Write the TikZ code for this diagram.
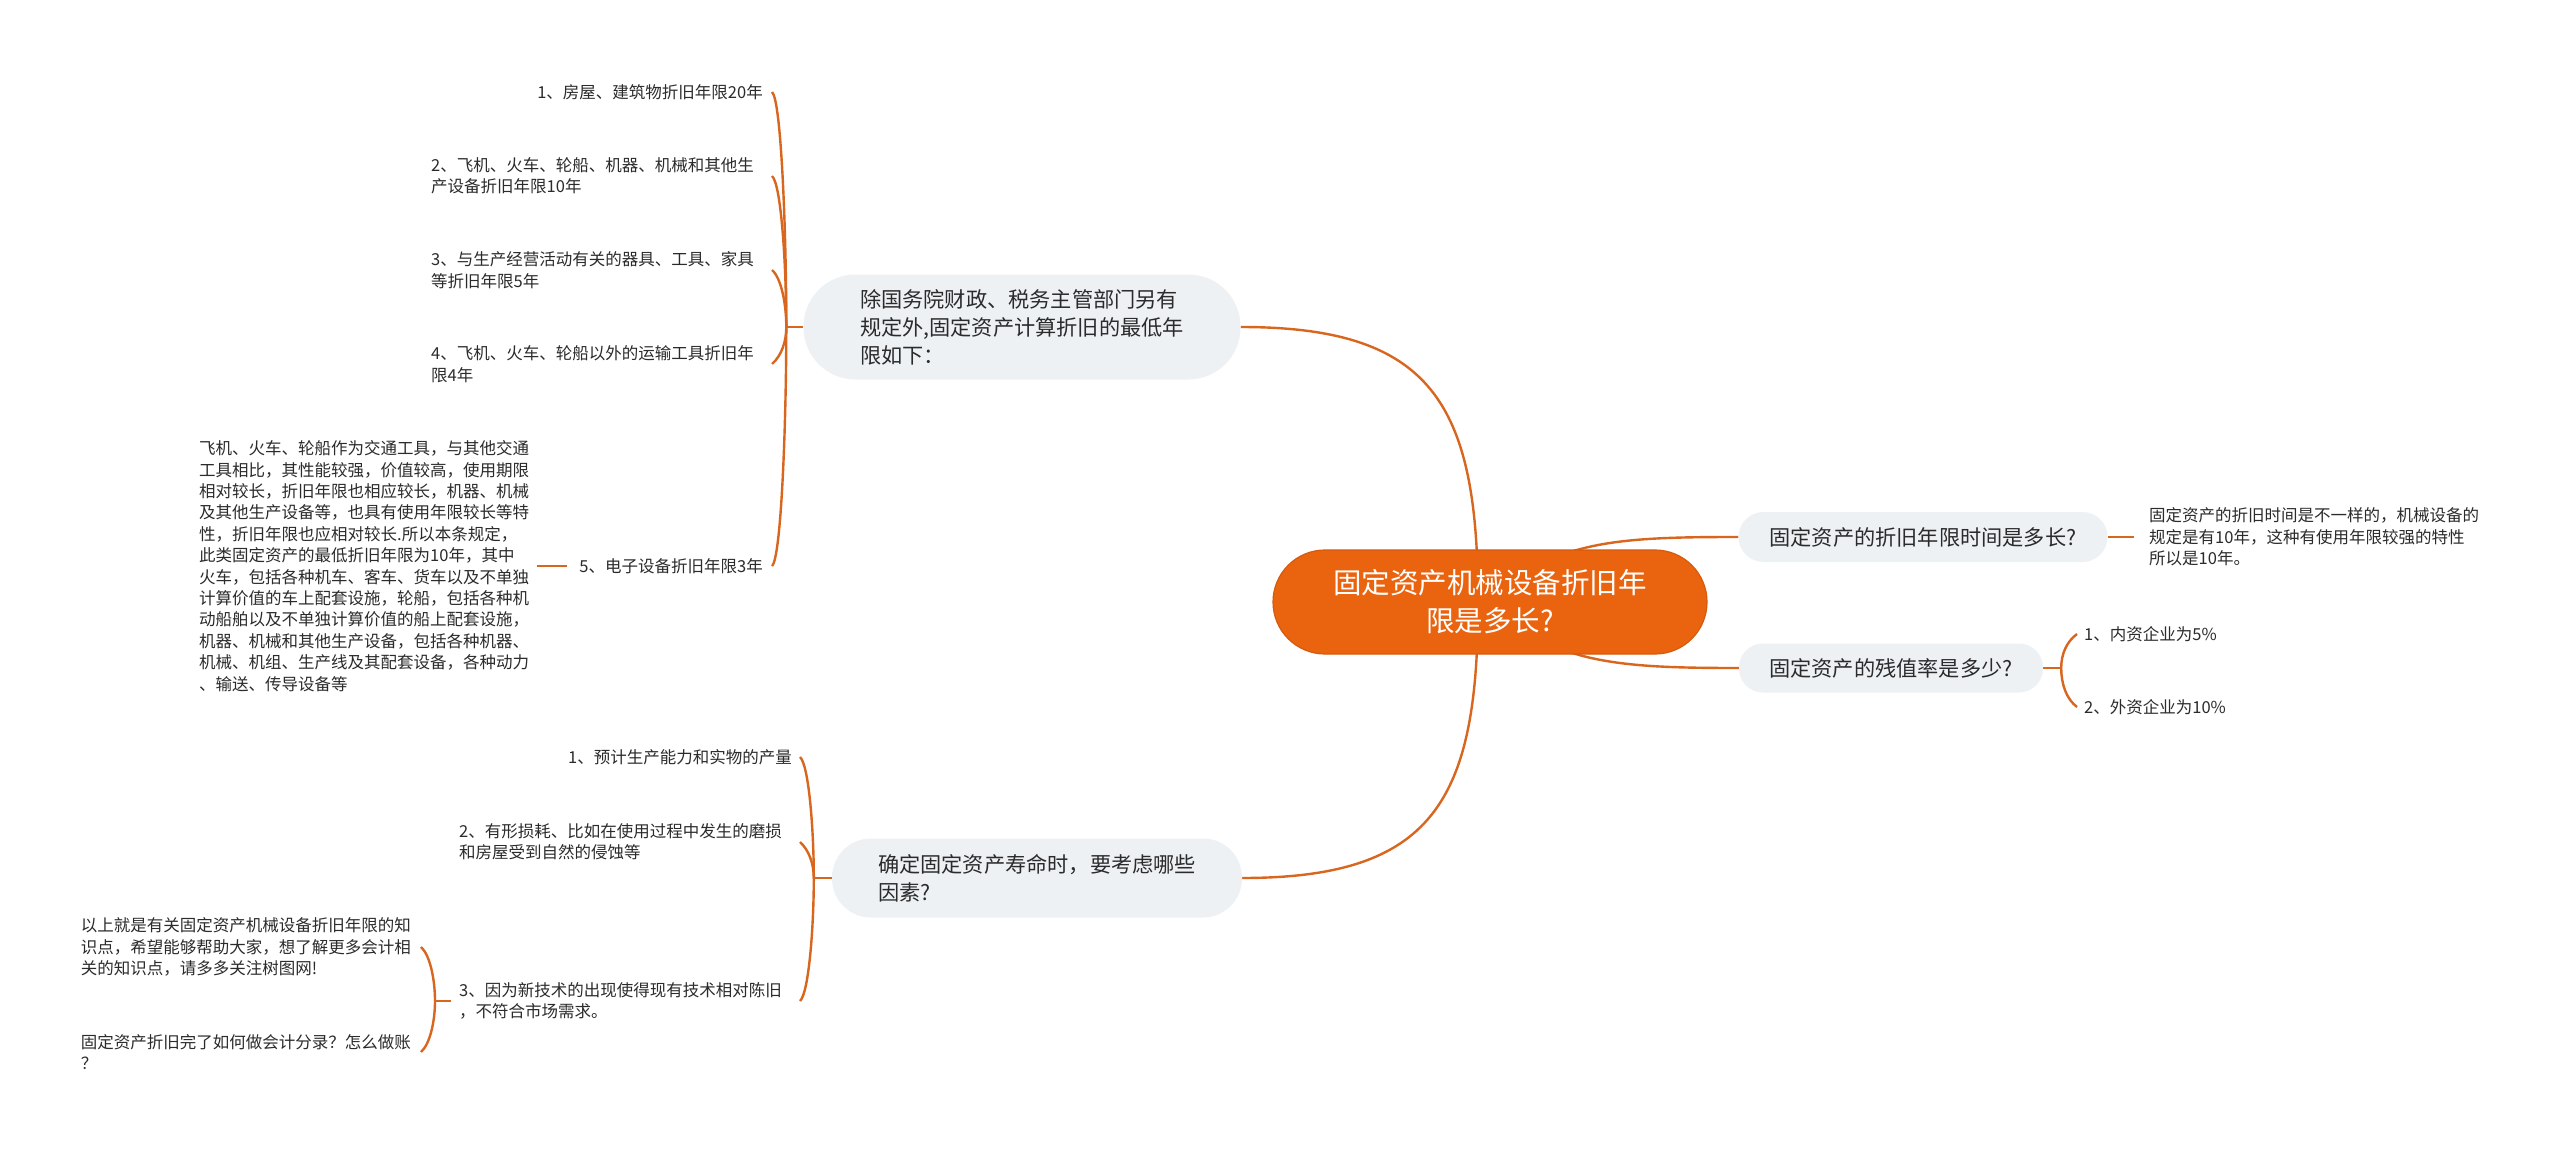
\documentclass[tikz,border=0pt]{standalone}
\usepackage{fontspec}
\newfontfamily\cjk{Noto Sans CJK SC}
\usetikzlibrary{backgrounds,calc}
\definecolor{linec}{HTML}{D9661F}
\definecolor{mainc}{HTML}{EA640F}
\definecolor{maindraw}{HTML}{D65A0C}
\definecolor{grayc}{HTML}{EEF1F4}
\definecolor{textc}{HTML}{2B2B2B}
\tikzset{
  conn/.style={draw=linec, line width=2.4pt},
  mainbox/.style={rectangle, rounded corners=52pt, fill=mainc, draw=maindraw, line width=1.2pt,
    minimum width=434pt, minimum height=104pt, inner sep=0pt, align=center, text=white,
    font=\cjk\fontsize{28.5}{38}\selectfont},
  branchbox/.style={rectangle, fill=grayc, draw=none, inner sep=0pt, text=textc, align=left,
    font=\cjk\fontsize{21.2}{28}\selectfont},
  leaf/.style={inner xsep=4pt, inner ysep=2pt, text=textc, align=left,
    font=\cjk\fontsize{16.5}{21.4}\selectfont},
}
\begin{document}
\begin{tikzpicture}[x=1pt,y=-1pt]
\path[use as bounding box] (0,0) rectangle (2560,1153);

% central and branch nodes
\node[mainbox] (main) at (1490,602) {固定资产机械设备折旧年\\限是多长?};
\node[branchbox, rounded corners=52pt, minimum width=437pt, minimum height=105pt] (tb) at (1022,327)
  {除国务院财政、税务主管部门另有\\规定外,固定资产计算折旧的最低年\\限如下：};
\node[branchbox, rounded corners=39pt, minimum width=410pt, minimum height=79pt] (bb) at (1037,878)
  {确定固定资产寿命时，要考虑哪些\\因素?};
\node[branchbox, rounded corners=25pt, minimum width=369pt, minimum height=50pt] (r1) at (1923,537)
  {固定资产的折旧年限时间是多长?};
\node[branchbox, rounded corners=24pt, minimum width=304pt, minimum height=49pt] (r2) at (1891,668)
  {固定资产的残值率是多少?};

% top branch leaves
\node[leaf, anchor=east] (t1) at (767,92) {1、房屋、建筑物折旧年限20年};
\node[leaf, anchor=west] (t2) at (427,176) {2、飞机、火车、轮船、机器、机械和其他生\\产设备折旧年限10年};
\node[leaf, anchor=west] (t3) at (427,270) {3、与生产经营活动有关的器具、工具、家具\\等折旧年限5年};
\node[leaf, anchor=west] (t4) at (427,364) {4、飞机、火车、轮船以外的运输工具折旧年\\限4年};
\node[leaf, anchor=east] (t5) at (767,566) {5、电子设备折旧年限3年};
\node[leaf, anchor=west] (t5a) at (195,566) {飞机、火车、轮船作为交通工具，与其他交通\\
工具相比，其性能较强，价值较高，使用期限\\
相对较长，折旧年限也相应较长，机器、机械\\
及其他生产设备等，也具有使用年限较长等特\\
性，折旧年限也应相对较长.所以本条规定，\\
此类固定资产的最低折旧年限为10年，其中\\
火车，包括各种机车、客车、货车以及不单独\\
计算价值的车上配套设施，轮船，包括各种机\\
动船舶以及不单独计算价值的船上配套设施，\\
机器、机械和其他生产设备，包括各种机器、\\
机械、机组、生产线及其配套设备，各种动力\\
、输送、传导设备等};

% bottom branch leaves
\node[leaf, anchor=east] (b1) at (796,757) {1、预计生产能力和实物的产量};
\node[leaf, anchor=west] (b2) at (455,842) {2、有形损耗、比如在使用过程中发生的磨损\\和房屋受到自然的侵蚀等};
\node[leaf, anchor=west] (b3) at (455,1001) {3、因为新技术的出现使得现有技术相对陈旧\\，不符合市场需求。};
\node[leaf, anchor=east] (b3a) at (415,947) {以上就是有关固定资产机械设备折旧年限的知\\识点，希望能够帮助大家，想了解更多会计相\\关的知识点，请多多关注树图网!};
\node[leaf, anchor=east] (b3b) at (415,1052) {固定资产折旧完了如何做会计分录？怎么做账\\？};

% right leaves
\node[leaf, anchor=west] (r1a) at (2145,537) {固定资产的折旧时间是不一样的，机械设备的\\规定是有10年，这种有使用年限较强的特性\\所以是10年。};
\node[leaf, anchor=west] (r2a) at (2080,634) {1、内资企业为5\%};
\node[leaf, anchor=west] (r2b) at (2080,707) {2、外资企业为10\%};

% junction coordinates
\coordinate (tbj) at ([xshift=-17pt]tb.west);
\coordinate (tbh) at (772,0);
\coordinate (bbj) at ([xshift=-18pt]bb.west);
\coordinate (bbh) at (800,0);
\coordinate (b3j) at ([xshift=-20pt]b3.west);
\coordinate (b3h) at (421,0);
\coordinate (r2j) at ([xshift=18pt]r2.east);
\coordinate (r2h) at (2077,0);

\begin{scope}[on background layer]
\fill[white] (0,0) rectangle (2560,1153);
% main connectors
\draw[conn] ([xshift=-12pt]main.center) .. controls +(0,-200) and +(190,0) .. (tb.east);
\draw[conn] ([xshift=-12pt]main.center) .. controls +(0,200) and +(190,0) .. (bb.east);
\draw[conn] (main.center) .. controls +(60,-62) and +(-119,0) .. (r1.west);
\draw[conn] (main.center) .. controls +(60,62) and +(-119,0) .. (r2.west);
% top branch
\draw[conn] (tb.west) -- (tbj);
\foreach \n in {t1,t2,t3,t4,t5}{
  \draw[conn] (tbj) .. controls ($(tbj |- \n.east)!0.6!(tbj)$) and ($(tbj |- \n.east)!8pt!(tbj)+(-5,0)$)
    .. (\n.east -| tbh);
}
\draw[conn] ([xshift=-8pt]t5.west) -- ([xshift=4pt]t5a.east);
% bottom branch
\draw[conn] (bb.west) -- (bbj);
\foreach \n in {b1,b2,b3}{
  \draw[conn] (bbj) .. controls ($(bbj |- \n.east)!0.6!(bbj)$) and ($(bbj |- \n.east)!8pt!(bbj)+(-5,0)$)
    .. (\n.east -| bbh);
}
\draw[conn] ([xshift=-4pt]b3.west) -- (b3j);
\foreach \n in {b3a,b3b}{
  \draw[conn] (b3j) .. controls ($(b3j |- \n.east)!0.6!(b3j)$) and ($(b3j |- \n.east)!8pt!(b3j)+(-5,0)$)
    .. (\n.east -| b3h);
}
% right branches
\draw[conn] (r1.east) -- ([xshift=-11pt]r1a.west);
\draw[conn] (r2.east) -- (r2j);
\foreach \n in {r2a,r2b}{
  \draw[conn] (r2j) .. controls ($(r2j |- \n.west)!0.6!(r2j)$) and ($(r2j |- \n.west)!8pt!(r2j)+(5,0)$)
    .. (\n.west -| r2h);
}
\end{scope}
\end{tikzpicture}
\end{document}
